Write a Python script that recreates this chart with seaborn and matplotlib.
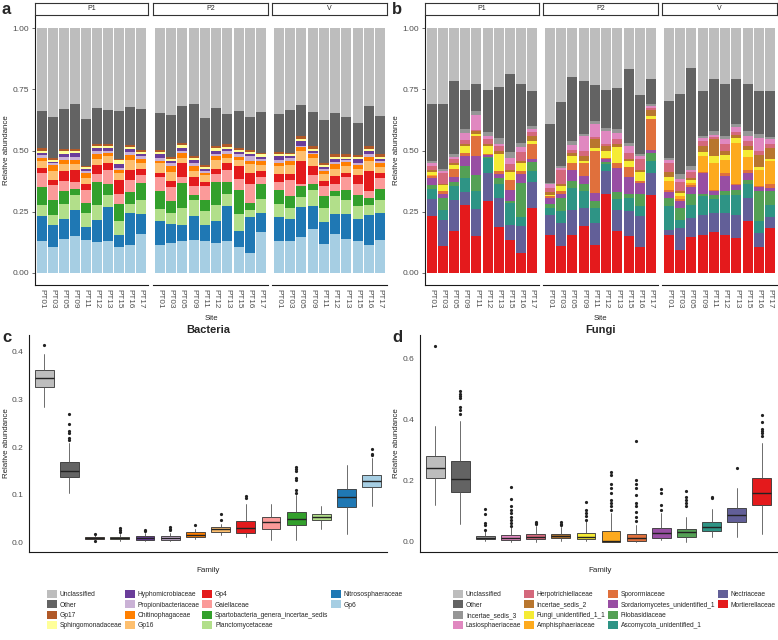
import numpy as np
import pandas as pd
import seaborn as sns
import matplotlib.pyplot as plt
from matplotlib.patches import Patch

sns.set_style('white')
plt.rcParams['font.family'] = ['Liberation Sans', 'DejaVu Sans']

sites = ['PT01', 'PT03', 'PT05', 'PT09', 'PT11', 'PT12', 'PT13', 'PT15', 'PT16', 'PT17']
groups = ['P1', 'P2', 'V']

# ---- bacteria, relative abundance per sample (P1 x10, P2 x10, V x10)
bac_uncl = [.339, .362, .332, .309, .370, .328, .336, .340, .322, .332,
            .348, .354, .320, .309, .367, .325, .351, .337, .365, .344,
            .351, .336, .313, .342, .377, .346, .362, .389, .316, .359]
bac_other = [.150, .168, .161, .184, .192, .147, .139, .193, .156, .167,
             .151, .172, .149, .214, .193, .156, .124, .152, .134, .166,
             .154, .174, .126, .140, .176, .168, .154, .131, .166, .157]
bac_gp17 = [.014, .008, .010, .010, .005, .007, .007, .005, .007, .006,
            .008, .008, .009, .007, .008, .008, .011, .010, .006, .006,
            .011, .006, .012, .010, .007, .013, .009, .007, .010, .009]
bac_sphingo = [.007, .007, .011, .009, .007, .007, .007, .017, .008, .011,
               .009, .010, .011, .008, .006, .011, .007, .006, .009, .009,
               .007, .007, .011, .008, .008, .007, .008, .007, .011, .008]
bac_hypho = [.010, .007, .012, .013, .008, .014, .011, .016, .012, .007,
             .014, .008, .011, .013, .008, .014, .010, .011, .009, .008,
             .015, .007, .020, .010, .006, .012, .007, .017, .011, .008]
bac_propion = [.010, .008, .011, .012, .011, .011, .010, .007, .015, .010,
               .011, .011, .011, .013, .010, .009, .011, .009, .021, .008,
               .014, .011, .003, .006, .008, .011, .009, .009, .012, .010]
bac_chitino = [.014, .022, .018, .018, .019, .020, .013, .016, .017, .018,
               .012, .024, .019, .018, .010, .015, .016, .013, .013, .019,
               .012, .019, .018, .014, .014, .020, .015, .014, .018, .015]
bac_gp16 = [.027, .038, .028, .023, .027, .027, .030, .028, .041, .023,
            .037, .039, .021, .025, .026, .036, .021, .026, .035, .022,
            .032, .036, .041, .034, .030, .028, .028, .028, .038, .027]
bac_gp4 = [.022, .023, .040, .050, .021, .037, .025, .056, .042, .028,
           .019, .022, .057, .039, .018, .022, .027, .051, .047, .025,
           .034, .023, .093, .038, .020, .034, .017, .037, .085, .019]
bac_gaiell = [.057, .059, .041, .030, .053, .029, .057, .039, .051, .031,
              .058, .060, .025, .037, .055, .032, .052, .045, .075, .030,
              .030, .068, .009, .035, .041, .028, .051, .041, .027, .044]
bac_sparto = [.074, .060, .055, .022, .044, .094, .045, .070, .048, .071,
              .071, .049, .102, .019, .048, .093, .046, .100, .031, .060,
              .059, .048, .043, .026, .048, .020, .044, .045, .030, .045]
bac_plancto = [.045, .044, .060, .062, .056, .063, .050, .060, .036, .054,
               .052, .044, .071, .064, .057, .066, .049, .071, .028, .058,
               .051, .044, .043, .064, .059, .071, .056, .055, .041, .054]
bac_nitroso = [.103, .087, .082, .106, .052, .090, .139, .049, .130, .082,
               .095, .079, .063, .099, .063, .093, .144, .065, .145, .080,
               .099, .090, .123, .094, .087, .084, .102, .092, .120, .112]
bac_gp6 = [.128, .107, .139, .152, .135, .126, .131, .104, .115, .160,
           .115, .120, .131, .135, .131, .120, .131, .104, .082, .165,
           .131, .131, .145, .179, .119, .158, .138, .128, .115, .133]

bac_families = ['Unclassified', 'Other', 'Gp17', 'Sphingomonadaceae', 'Hyphomicrobiaceae',
                'Propionibacteriaceae', 'Chitinophagaceae', 'Gp16', 'Gp4', 'Gaiellaceae',
                'Spartobacteria_genera_incertae_sedis', 'Planctomycetaceae',
                'Nitrososphaeraceae', 'Gp6']
bac_colors = ['#BDBDBD', '#636363', '#B15928', '#FFFF99', '#6A3D9A', '#CAB2D6', '#FF7F00',
              '#FDBF6F', '#E31A1C', '#FB9A99', '#33A02C', '#B2DF8A', '#1F78B4', '#A6CEE3']
bac_values = [bac_uncl, bac_other, bac_gp17, bac_sphingo, bac_hypho, bac_propion, bac_chitino,
              bac_gp16, bac_gp4, bac_gaiell, bac_sparto, bac_plancto, bac_nitroso, bac_gp6]

# ---- fungi
fun_uncl = [.311, .311, .216, .253, .230, .253, .240, .186, .227, .257,
            .391, .301, .200, .216, .234, .253, .246, .168, .275, .209,
            .299, .268, .164, .257, .209, .230, .209, .230, .257, .257]
fun_other = [.233, .266, .298, .161, .109, .171, .207, .319, .242, .143,
             .242, .263, .262, .216, .146, .157, .168, .301, .239, .102,
             .231, .330, .400, .183, .212, .211, .184, .190, .177, .188]
fun_is3 = [.008, .005, .011, .014, .016, .016, .026, .025, .016, .014,
           .006, .007, .016, .009, .010, .010, .016, .013, .009, .007,
           .007, .020, .014, .008, .014, .014, .012, .020, .014, .010]
fun_lasio = [.010, .010, .008, .030, .063, .015, .009, .025, .020, .010,
             .014, .007, .018, .059, .055, .055, .025, .028, .010, .010,
             .014, .010, .009, .014, .010, .020, .020, .020, .052, .020]
fun_herp = [.017, .045, .018, .015, .003, .018, .021, .023, .039, .017,
            .016, .061, .014, .022, .010, .008, .020, .023, .045, .008,
            .036, .039, .025, .020, .010, .025, .010, .022, .020, .014]
fun_is2 = [.008, .005, .009, .009, .013, .007, .011, .009, .007, .021,
           .011, .007, .013, .019, .034, .020, .010, .011, .009, .023,
           .022, .007, .007, .023, .068, .019, .015, .014, .048, .044]
fun_funun = [.013, .025, .014, .028, .007, .034, .068, .032, .031, .013,
             .007, .021, .028, .010, .011, .027, .066, .024, .038, .014,
             .017, .013, .014, .018, .028, .018, .020, .031, .010, .011]
fun_amph = [.005, 0, 0, 0, 0, 0, 0, 0, 0, 0,
            0, 0, 0, 0, 0, 0, 0, 0, 0, 0,
            .034, .010, .009, .065, .111, .055, .167, .051, .067, .095]
fun_spor = [.007, .009, .035, .013, .082, .006, .014, .041, .016, .058,
            .007, .011, .027, .054, .174, .005, .019, .041, .008, .123,
            .009, .011, .008, .004, .005, .013, .005, .014, .005, .014]
fun_sord = [.030, .018, .019, .041, .079, .006, .016, .045, .035, .015,
            .026, .016, .048, .034, .031, .010, .100, .067, .045, .014,
            .025, .027, .028, .086, .015, .062, .018, .027, .015, .014]
fun_filo = [.014, .048, .017, .048, .063, .004, .025, .009, .137, .034,
            .015, .055, .027, .028, .030, .010, .030, .018, .047, .034,
            .034, .048, .043, .009, .018, .013, .020, .020, .125, .054]
fun_asco = [.041, .041, .056, .057, .073, .060, .057, .089, .040, .046,
            .030, .047, .089, .068, .061, .030, .045, .055, .044, .048,
            .096, .034, .055, .075, .055, .075, .082, .055, .047, .052]
fun_nect = [.072, .106, .130, .052, .110, .118, .120, .064, .110, .107,
            .079, .093, .102, .075, .092, .093, .086, .102, .126, .092,
            .020, .089, .078, .082, .080, .089, .096, .096, .058, .044]
fun_mort = [.231, .111, .169, .279, .152, .292, .186, .133, .080, .265,
            .156, .111, .156, .190, .112, .322, .169, .149, .105, .316,
            .156, .094, .146, .156, .165, .156, .142, .210, .105, .183]

fun_families = ['Unclassified', 'Other', 'Incertae_sedis_3', 'Lasiosphaeriaceae',
                'Herpotrichiellaceae', 'Incertae_sedis_2', 'Fungi_unidentified_1_1',
                'Amphisphaeriaceae', 'Sporormiaceae', 'Sordariomycetes_unidentified_1',
                'Filobasidiaceae', 'Ascomycota_unidentified_1', 'Nectriaceae', 'Mortierellaceae']
fun_colors = ['#BDBDBD', '#636363', '#969696', '#E088C0', '#D4687C', '#B8762E', '#F5EB35',
              '#FDAA1E', '#E0703C', '#984EA3', '#54A055', '#2E9485', '#625F98', '#E41A1C']
fun_values = [fun_uncl, fun_other, fun_is3, fun_lasio, fun_herp, fun_is2, fun_funun,
              fun_amph, fun_spor, fun_sord, fun_filo, fun_asco, fun_nect, fun_mort]

# ---- box statistics over all samples (same family order as the legends)
bac_lo = [.283, .104, .005, .004, .004, .003, .008, .016, .013, .007, .007, .028, .019, .076]
bac_q1 = [.326, .1375, .008, .008, .007, .007, .0125, .023, .021, .028, .038, .047, .074, .117]
bac_med = [.345, .151, .0104, .010, .0105, .011, .016, .028, .031, .043, .050, .054, .095, .130]
bac_q3 = [.361, .168, .012, .013, .014, .015, .022, .033, .0465, .0535, .064, .061, .113, .142]
bac_hi = [.394, .208, .016, .018, .020, .021, .030, .040, .082, .081, .099, .078, .163, .177]
bac_out = [[.414], [.269, .248, .233, .229, .219, .214], [.019, .003], [.031, .026, .022],
           [.026, .024], [.033, .029, .027], [.038], [.061, .047], [.097, .094], [],
           [.158, .154, .151, .135, .131, .111, .104], [], [], [.196, .186, .184]]

fun_lo = [.121, .058, .002, .001, .001, .003, .002, 0, 0, .005, 0, .015, .015, .026]
fun_q1 = [.209, .164, .008, .006, .008, .012, .010, .001, .004, .013, .015, .037, .064, .121]
fun_med = [.242, .205, .013, .012, .016, .018, .016, .004, .012, .029, .031, .048, .089, .159]
fun_q3 = [.280, .265, .018, .024, .027, .026, .029, .035, .027, .045, .042, .065, .112, .210]
fun_hi = [.378, .397, .035, .051, .051, .048, .067, .094, .056, .096, .083, .107, .175, .323]
fun_out = [[.641], [.494, .485, .478, .472, .440, .432, .418],
           [.107, .092, .062, .055, .040],
           [.181, .139, .119, .105, .094, .083, .072, .062, .053],
           [.066, .062, .058], [.064, .059, .055], [.129, .105, .094, .085, .072],
           [.229, .218, .191, .178, .159, .137, .126, .116, .105],
           [.330, .202, .191, .175, .154, .126, .116, .099, .083, .067],
           [.173, .159, .121, .105], [.168, .148, .137, .126, .116],
           [.148, .143], [.242], [.416, .391, .370, .362, .356, .348]]

W, H = 778, 640
fig = plt.figure(figsize=(W / 100, H / 100), dpi=100)
AX_COL = '#1a1a1a'
TXT_COL = '#4d4d4d'


def px_axes(x0, y0, x1, y1):
    return fig.add_axes([x0 / W, 1 - y1 / H, (x1 - x0) / W, (y1 - y0) / H])


def long_table(values, families):
    rows = []
    for fam, vals in zip(families, values):
        for i, v in enumerate(vals):
            rows.append((groups[i // 10], i % 10 + 1, fam, v))
    return pd.DataFrame(rows, columns=['group', 'pos', 'family', 'value'])


def stacked_panel(values, families, colors, facets, xmid):
    df = long_table(values, families)
    pal = dict(zip(families, colors))
    for k, (g, (x0, x1)) in enumerate(zip(groups, facets)):
        ax = px_axes(x0, 16, x1, 285)
        sns.histplot(data=df[df.group == g], x='pos', weights='value', hue='family',
                     hue_order=families, palette=pal, multiple='stack', discrete=True,
                     shrink=0.9, linewidth=0, alpha=1, legend=False, ax=ax)
        ax.set_xlim(0.4, 10.6)
        ax.set_ylim(-0.05, 1.05)
        ax.set_xticks(range(1, 11))
        ax.set_xticklabels(sites, rotation=-90, fontsize=5.9, color=TXT_COL)
        ax.set_xlabel('')
        ax.set_ylabel('')
        for s in ['top', 'right']:
            ax.spines[s].set_visible(False)
        ax.spines['bottom'].set_color(AX_COL)
        ax.spines['bottom'].set_linewidth(0.8)
        ax.tick_params(axis='x', length=1.8, width=0.5, color='#333333', pad=0.8)
        if k == 0:
            ax.spines['left'].set_color(AX_COL)
            ax.spines['left'].set_linewidth(0.8)
            ax.set_yticks([0, 0.25, 0.5, 0.75, 1.0])
            ax.set_yticklabels(['0.00', '0.25', '0.50', '0.75', '1.00'], fontsize=6, color=TXT_COL)
            ax.tick_params(axis='y', left=True, length=2.5, width=0.5, color='#333333', pad=1.5)
        else:
            ax.spines['left'].set_visible(False)
            ax.set_yticks([])
        # facet strip
        st = px_axes(x0, 3, x1, 15)
        st.set_xticks([])
        st.set_yticks([])
        for s in st.spines.values():
            s.set_color('#333333')
            s.set_linewidth(0.8)
        st.text(0.5, 0.5, g, ha='center', va='center', fontsize=5, transform=st.transAxes)
    fig.text(xmid / W, 1 - 318 / H, 'Site', ha='center', va='center', fontsize=5.6)


def box_panel(x0, x1, colors, lo, q1, med, q3, hi, out, ylim, yticks, title, xmid):
    ax = px_axes(x0, 335, x1, 552)
    stats = [dict(whislo=a, q1=b, med=c, q3=d, whishi=e, fliers=f)
             for a, b, c, d, e, f in zip(lo, q1, med, q3, hi, out)]
    bp = ax.bxp(stats, positions=range(1, 15), widths=0.75, patch_artist=True,
                showcaps=False,
                boxprops=dict(edgecolor='#333333', linewidth=0.6),
                medianprops=dict(color='#222222', linewidth=1.0),
                whiskerprops=dict(color='#555555', linewidth=0.6),
                flierprops=dict(marker='o', markersize=2.3, markerfacecolor='#222222',
                                markeredgecolor='none'))
    for patch, c in zip(bp['boxes'], colors):
        patch.set_facecolor(c)
    ax.set_xlim(0.4, 14.6)
    ax.set_ylim(*ylim)
    ax.set_xticks(range(1, 15))
    ax.set_xticklabels([])
    ax.set_yticks(yticks)
    ax.set_yticklabels([f'{t:.1f}' for t in yticks], fontsize=6, color=TXT_COL)
    for s in ['top', 'right']:
        ax.spines[s].set_visible(False)
    for s in ['left', 'bottom']:
        ax.spines[s].set_color(AX_COL)
        ax.spines[s].set_linewidth(0.8)
    ax.tick_params(length=2.5, width=0.5, color='#333333', pad=1.5)
    fig.text(xmid / W, 1 - 330 / H, title, ha='center', va='center', fontsize=8,
             fontweight='bold')
    fig.text(xmid / W, 1 - 570 / H, 'Family', ha='center', va='center', fontsize=5.8)


stacked_panel(bac_values, bac_families, bac_colors,
              [(35, 148), (153, 268), (272, 387)], 211)
stacked_panel(fun_values, fun_families, fun_colors,
              [(425, 539), (543, 658), (662, 777)], 600)

box_panel(29, 387, bac_colors, bac_lo, bac_q1, bac_med, bac_q3, bac_hi, bac_out,
          (-0.019, 0.434), [0.0, 0.1, 0.2, 0.3, 0.4], 'Bacteria', 208)
box_panel(420, 777, fun_colors, fun_lo, fun_q1, fun_med, fun_q3, fun_hi, fun_out,
          (-0.033, 0.677), [0.0, 0.2, 0.4, 0.6], 'Fungi', 600)

for x, y in [(7, 150), (397, 150), (7, 443), (397, 443)]:
    fig.text(x / W, 1 - y / H, 'Relative abundance', rotation=90, ha='center',
             va='center', fontsize=5.7)

for letter, x, y in [('a', 2, 9), ('b', 392, 9), ('c', 2, 338), ('d', 392, 338)]:
    fig.text(x / W, 1 - y / H, letter, ha='left', va='center', fontsize=12,
             fontweight='bold')


def legend(families, colors, x0):
    handles = [Patch(facecolor=c, edgecolor='none', label=f) for f, c in zip(families, colors)]
    handles += [Patch(alpha=0, label='') for _ in range(2)]
    fig.legend(handles=handles, loc='upper left', bbox_to_anchor=(x0 / W, 1 - 590 / H),
               ncol=4, frameon=False, fontsize=4.8, handlelength=1.5, handleheight=1.5,
               handletextpad=0.45, columnspacing=0.35, labelspacing=0.3,
               borderaxespad=0, borderpad=0)


legend(bac_families, bac_colors, 47)
legend(fun_families, fun_colors, 453)

fig.savefig('out.png', dpi=100)
